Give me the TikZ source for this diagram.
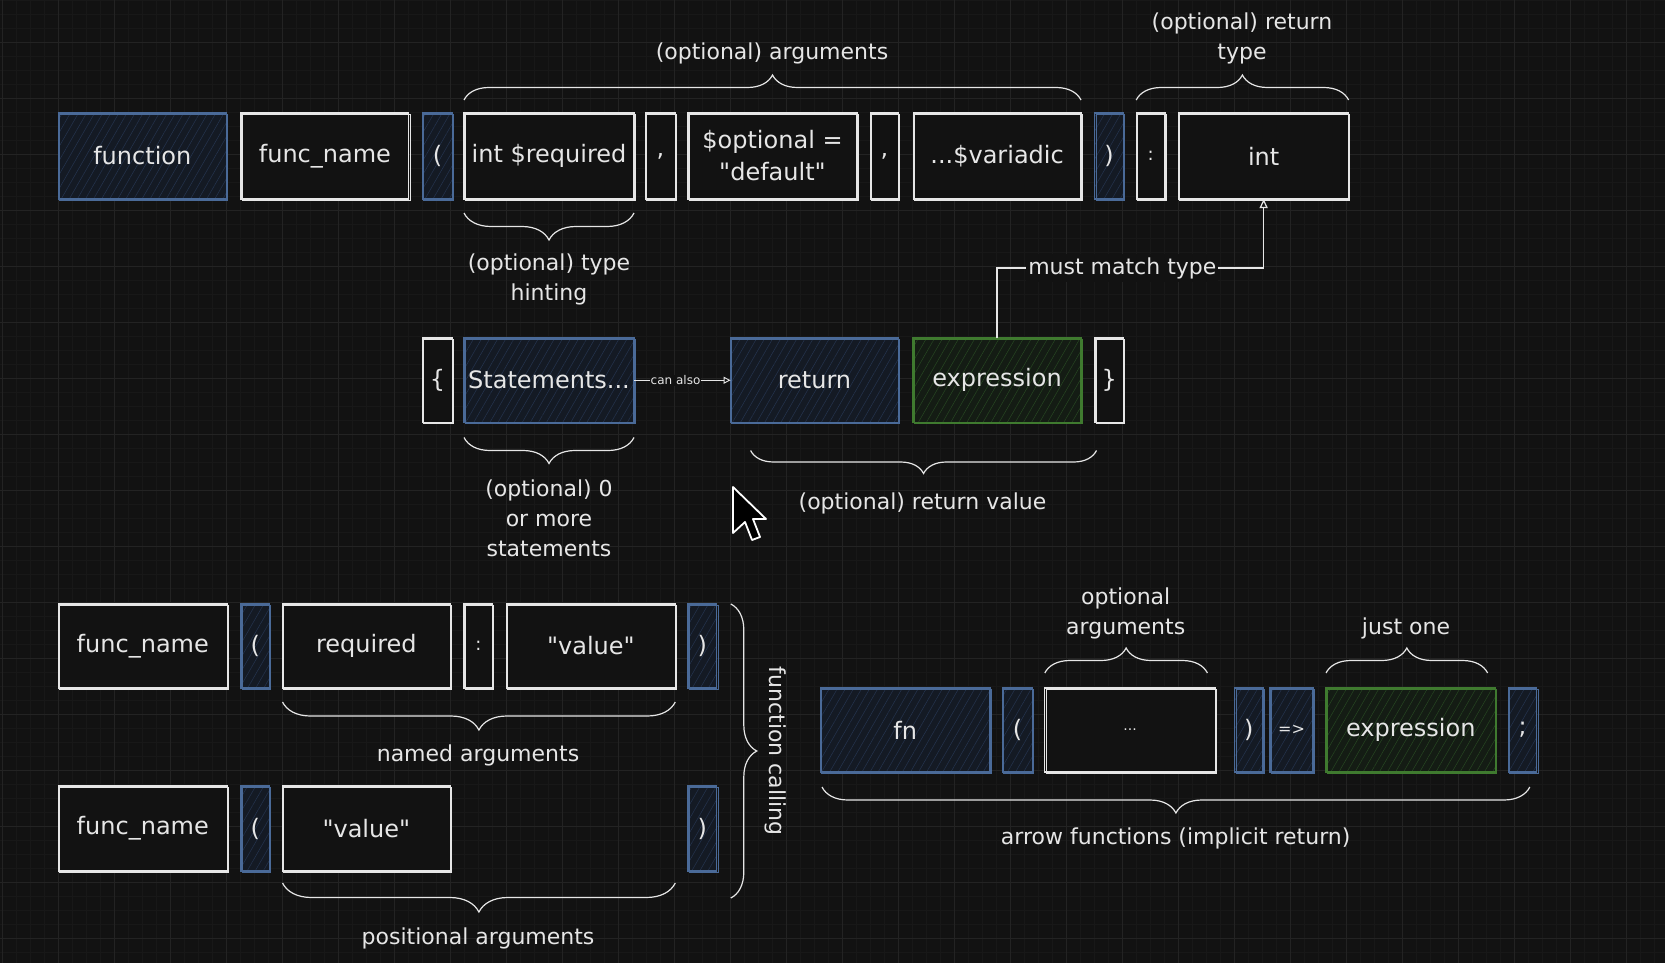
\documentclass[tikz,border=0pt]{standalone}
\usepackage{fontspec}
\setmainfont{DejaVu Sans}[Ligatures=TeXOff]
\usetikzlibrary{fit,calc,decorations.pathreplacing,arrows.meta,patterns.meta}

\definecolor{bg}{HTML}{121212}
\definecolor{gridmaj}{HTML}{232323}
\definecolor{gridmin}{HTML}{181818}
\definecolor{ink}{HTML}{E6E6E6}
\definecolor{bstroke}{HTML}{4A6A98}
\definecolor{bfill}{HTML}{141A24}
\definecolor{bhatch}{HTML}{25344F}
\definecolor{gstroke}{HTML}{3F7A2F}
\definecolor{gfill}{HTML}{141C14}
\definecolor{ghatch}{HTML}{274722}

\tikzset{
  basebox/.style={rectangle, inner sep=0pt, outer sep=0pt, line width=1.3pt},
  boxw/.style={basebox, draw=ink, fill=bg,
    postaction={draw=ink, line width=0.6pt, transform canvas={shift={(1pt,-1pt)}}}},
  boxb/.style={basebox, draw=bstroke, preaction={fill=bfill},
    pattern={Lines[angle=60,distance=7pt,line width=0.5pt]}, pattern color=bhatch,
    postaction={draw=bstroke, line width=0.6pt, transform canvas={shift={(1pt,-1pt)}}}},
  boxg/.style={basebox, draw=gstroke, preaction={fill=gfill},
    pattern={Lines[angle=60,distance=7pt,line width=0.5pt]}, pattern color=ghatch,
    postaction={draw=gstroke, line width=0.6pt, transform canvas={shift={(1pt,-1pt)}}}},
  boxtext/.style={text=ink, font=\fontsize{24}{32}\selectfont, align=center, inner sep=0pt},
  lbl/.style={text=ink, font=\fontsize{22}{30}\selectfont, align=center, inner sep=0pt},
  brc/.style={draw=ink, line width=1.2pt, decorate, decoration={brace, amplitude=#1}},
  brc/.default=25pt,
  conn/.style={draw=ink, line width=1.2pt},
}

\newcommand\bx[7]{\node[#1, fit={(#3,#5)(#4,#6)}] (#2) {};
  \node[boxtext] at (#2.center) {#7};}

\begin{document}
\begin{tikzpicture}[x=1pt,y=-1pt]
\fill[bg] (0,0) rectangle (1665,963);
\useasboundingbox (0,0) rectangle (1665,963);
% grid
\foreach \i in {0,...,118} {\draw[gridmin, line width=0.6pt] ({2.7+14*\i},0) -- ({2.7+14*\i},963);}
\foreach \j in {0,...,68} {\draw[gridmin, line width=0.6pt] (0,{0.7+14*\j}) -- (1665,{0.7+14*\j});}
\foreach \i in {0,...,29} {\draw[gridmaj, line width=1pt] ({2.7+56*\i},0) -- ({2.7+56*\i},963);}
\foreach \j in {0,...,16} {\draw[gridmaj, line width=1pt] (0,{42.7+56*\j}) -- (1665,{42.7+56*\j});}

% ---- row 1: definition
\bx{boxb}{kw}{58.4}{226.2}{113}{199}{function}
\bx{boxw}{fname}{241}{408.8}{113}{199}{func\_name}
\bx{boxb}{lp1}{422.6}{452.4}{113}{199}{(}
\bx{boxw}{req}{464}{634}{113}{199}{int \$required}
\bx{boxw}{cm1}{645.6}{675.3}{113}{199}{,}
\bx{boxw}{opt}{688}{857}{113}{199}{\$optional =\\"default"}
\bx{boxw}{cm2}{870.7}{898.3}{113}{199}{,}
\bx{boxw}{var}{913.2}{1081}{113}{199}{...\$variadic}
\bx{boxb}{rp1}{1094.8}{1123.5}{113}{199}{)}
\node[boxw, fit={(1136.2,113)(1164.9,199)}] (col1) {};
\node[boxtext, font=\fontsize{18}{20}\selectfont] at (col1.center) {:};
\bx{boxw}{int}{1178.7}{1348.6}{113}{199}{int}

% ---- row 2: body
\bx{boxw}{lcb}{422.6}{452.4}{338}{422.5}{\{}
\bx{boxb}{stm}{464}{634}{338}{422.5}{Statements...}
\bx{boxb}{ret}{730.6}{898.3}{338}{422.5}{return}
\bx{boxg}{expr}{913}{1081}{338}{422.5}{expression}
\bx{boxw}{rcb}{1095}{1123.5}{338}{422.5}{\}}

% ---- row 3: named call
\bx{boxw}{fn3}{58.4}{227.2}{604}{688}{func\_name}
\bx{boxb}{lp3}{241}{269.7}{604}{688}{(}
\bx{boxw}{req3}{282.5}{450.2}{604}{688}{required}
\node[boxw, fit={(464,604)(492.7,688)}] (col3) {};
\node[boxtext, font=\fontsize{18}{20}\selectfont] at (col3.center) {:};
\bx{boxw}{val3}{506.5}{675.3}{604}{688}{"value"}
\bx{boxb}{rp3}{688}{716.8}{604}{688}{)}

% ---- row 4: positional call
\bx{boxw}{fn4}{58.4}{227.2}{786}{871}{func\_name}
\bx{boxb}{lp4}{241}{269.7}{786}{871}{(}
\bx{boxw}{val4}{282.5}{450.2}{786}{871}{"value"}
\bx{boxb}{rp4}{688}{716.8}{786}{871}{)}

% ---- row 5: arrow function
\bx{boxb}{fn}{820.5}{990}{688}{772}{fn}
\bx{boxb}{lp5}{1002.6}{1032.7}{688}{772}{(}
\node[boxw, fit={(1044.8,688)(1215.4,772)}] (dots) {};
\node[boxtext, font=\fontsize{14}{16}\selectfont] at (dots.center) {...};
\bx{boxb}{rp5}{1234.8}{1263}{688}{772}{)}
\node[boxb, fit={(1270,688)(1313,772)}] (arr) {};
\node[boxtext, font=\fontsize{16}{18}\selectfont] at (arr.center) {=>};
\bx{boxg}{expr5}{1326}{1495.6}{688}{772}{expression}
\bx{boxb}{semi}{1508.7}{1536.8}{688}{772}{;}

% ---- connectors
\coordinate (mmL) at ($(expr.north)+(0,-70)$);
\coordinate (mmR) at (int.south |- mmL);
\draw[conn, -{Triangle[open,length=9pt,width=8pt]}] (expr.north) -- (mmL) -- node[pos=0.47, lbl, fill=bg, inner xsep=2pt, inner ysep=3pt] {must match type} (mmR) -- (int.south);
\draw[conn, line width=0.9pt, -{Triangle[open,length=7pt,width=7pt]}] (stm.east) -- node[pos=0.43, fill=bg, text=ink, inner sep=1pt, font=\fontsize{12}{14}\selectfont] {can also} (ret.west);

% ---- braces
\draw[brc] ($(req.north west)+(0,-13)$) -- ($(var.north east)+(0,-13)$);
\draw[brc] ($(col1.north west)+(0,-13)$) -- ($(int.north east)+(0,-13)$);
\draw[brc=27pt] ($(req.south east)+(0,14)$) -- ($(req.south west)+(0,14)$);
\draw[brc=26pt] ($(stm.south east)+(0,15)$) -- ($(stm.south west)+(0,15)$);
\draw[brc=23pt] ($(rcb.south east)+(-27,28)$) -- ($(ret.south west)+(20,28)$);
\draw[brc=28pt] ($(val3.south east)+(0,14)$) -- ($(req3.south west)+(0,14)$);
\draw[brc=29pt] ($(val3.east |- val4.south)+(0,12)$) -- ($(val4.south west)+(0,12)$);
\draw[brc=26pt] ($(rp3.north east)+(14,0)$) -- ($(rp4.south east)+(14,27)$);
\draw[brc] ($(dots.north west)+(0,-15)$) -- ($(dots.north east)+(-8,-15)$);
\draw[brc] ($(expr5.north west)+(0,-15)$) -- ($(expr5.north east)+(-8,-15)$);
\draw[brc=26pt] ($(semi.south east)+(-7,15)$) -- ($(fn.south west)+(1.5,15)$);

% ---- labels
\node[lbl] (l1) at (772,53) {(optional) arguments};
\node[lbl] (l2) at (1242,38) {(optional) return\\type};
\node[lbl] (l3) at (549,279) {(optional) type\\hinting};
\node[lbl] (l4) at (549,518) {(optional) 0\\or more\\statements};
\node[lbl] (l5) at (922.5,503) {(optional) return value};
\node[lbl] (l6) at (478,755) {named arguments};
\node[lbl] (l7) at (478,938) {positional arguments};
\node[lbl, rotate=-90] (l8) at (776,751) {function calling};
\node[lbl] (l9) at (1125.7,613) {optional\\arguments};
\node[lbl] (l10) at (1406,628) {just one};
\node[lbl] (l11) at (1175.7,838) {arrow functions (implicit return)};

% ---- mouse cursor
\draw[fill=black, draw=white, line width=1.8pt, line join=round]
  (733,487) -- ++(0,46) -- ++(12,-11) -- ++(7,18) -- ++(8,-3) -- ++(-7,-18) -- ++(13,0) -- cycle;
\end{tikzpicture}
\end{document}
